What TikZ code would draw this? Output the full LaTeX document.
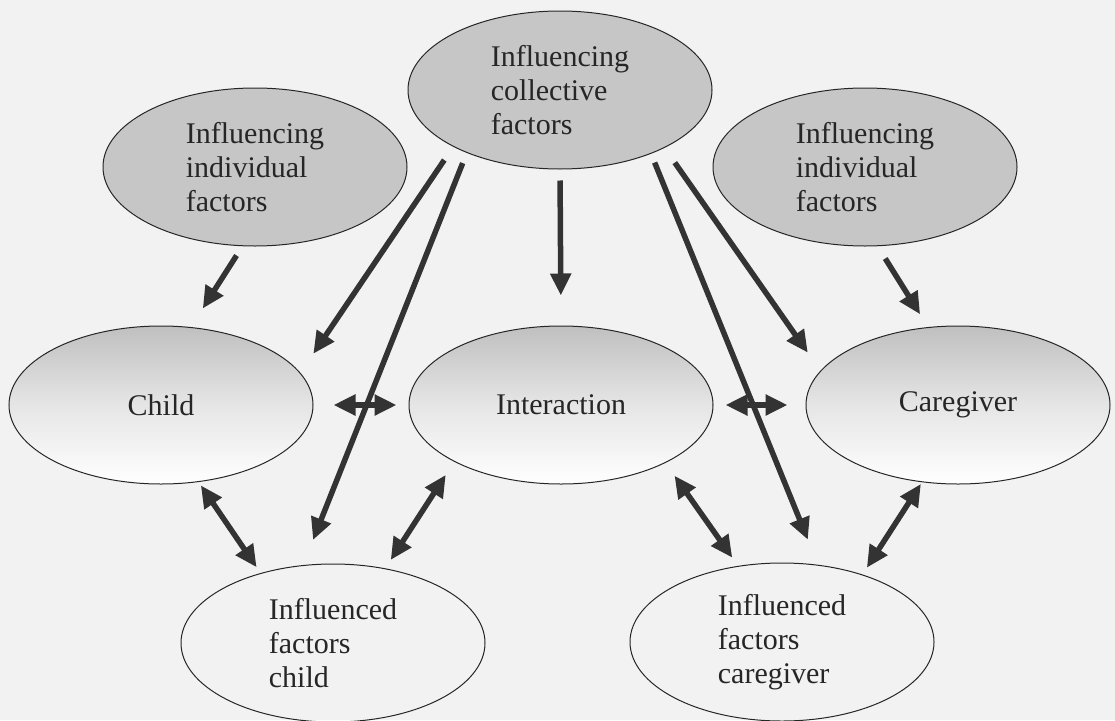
\documentclass[tikz,border=0pt]{standalone}
\usepackage{fontspec}
\setmainfont{Liberation Serif}
\usepackage{xcolor}
\usepackage{tikz}
\usetikzlibrary{arrows.meta, shapes.geometric}

\begin{document}
\begin{tikzpicture}[x=1pt, y=-1pt, >={Triangle[length=22pt, width=20pt]}]

% === Styles ===
\tikzset{
  bubble/.style={ellipse, draw=black!85, line width=1pt,
    minimum width=304pt, minimum height=158pt, inner sep=0pt,
    align=left, font=\fontsize{30}{34}\selectfont, text=black!85},
  topbubble/.style={bubble, fill=gray!45},
  midbubble/.style={bubble, top color=gray!50, bottom color=white, middle color=gray!20},
  link/.style={line width=5.5pt, draw=black!80, fill=black!80}
}

% === Drawing region ===
\useasboundingbox (0,0) rectangle (1115,720);
\fill[black!5] (0,0) rectangle (1115,720);

% === Ellipses ===
\node[topbubble] (collective) at (560,90) {Influencing\\collective\\factors};
\node[topbubble] (indivL) at (255,167) {Influencing\\individual\\factors};
\node[topbubble] (indivR) at (865,167) {Influencing\\individual\\factors};

\node[midbubble] (child) at (161,405) {Child};
\node[midbubble] (interaction) at (561,405) {Interaction};
\node[midbubble] (caregiver) at (958,405) {Caregiver};

\node[bubble] (inflChild) at (333,643) {Influenced\\factors\\child};
\node[bubble] (inflCare) at (782,642) {Influenced\\factors\\caregiver};

% === Arrows ===
% one-way influences
\draw[link, ->, shorten <=11pt, shorten >=22pt] (indivL.261) -- (child.69);
\draw[link, ->, shorten <=16pt, shorten >=23pt] (collective.208) -- (child.13);
\draw[link, ->, shorten <=11pt, shorten >=27pt] (collective.214) -- (inflChild.111);
\draw[link, ->, shorten <=11pt, shorten >=30pt] (collective.270) -- (interaction.90);
\draw[link, ->, shorten <=9.5pt, shorten >=27pt] (collective.325.4) -- (inflCare.65.5);
\draw[link, ->, shorten <=18pt, shorten >=22pt] (collective.331.4) -- (caregiver.166.6);
\draw[link, ->, shorten <=14.5pt, shorten >=15pt] (indivR.279) -- (caregiver.111);

% two-way links
\draw[link, <->, shorten <=20pt, shorten >=12pt] (child.0) -- (interaction.180);
\draw[link, <->, shorten <=12pt, shorten >=18pt] (interaction.0) -- (caregiver.180);
\draw[link, <->, shorten <=4pt, shorten >=7pt] (child.296) -- (inflChild.136);
\draw[link, <->, shorten <=15.6pt, shorten >=10pt] (interaction.208.4) -- (inflChild.55.4);
\draw[link, <->, shorten <=15.6pt, shorten >=10pt] (interaction.331.5) -- (inflCare.120.3);
\draw[link, <->, shorten <=2pt, shorten >=8pt] (caregiver.245) -- (inflCare.40.7);

\end{tikzpicture}
\end{document}
